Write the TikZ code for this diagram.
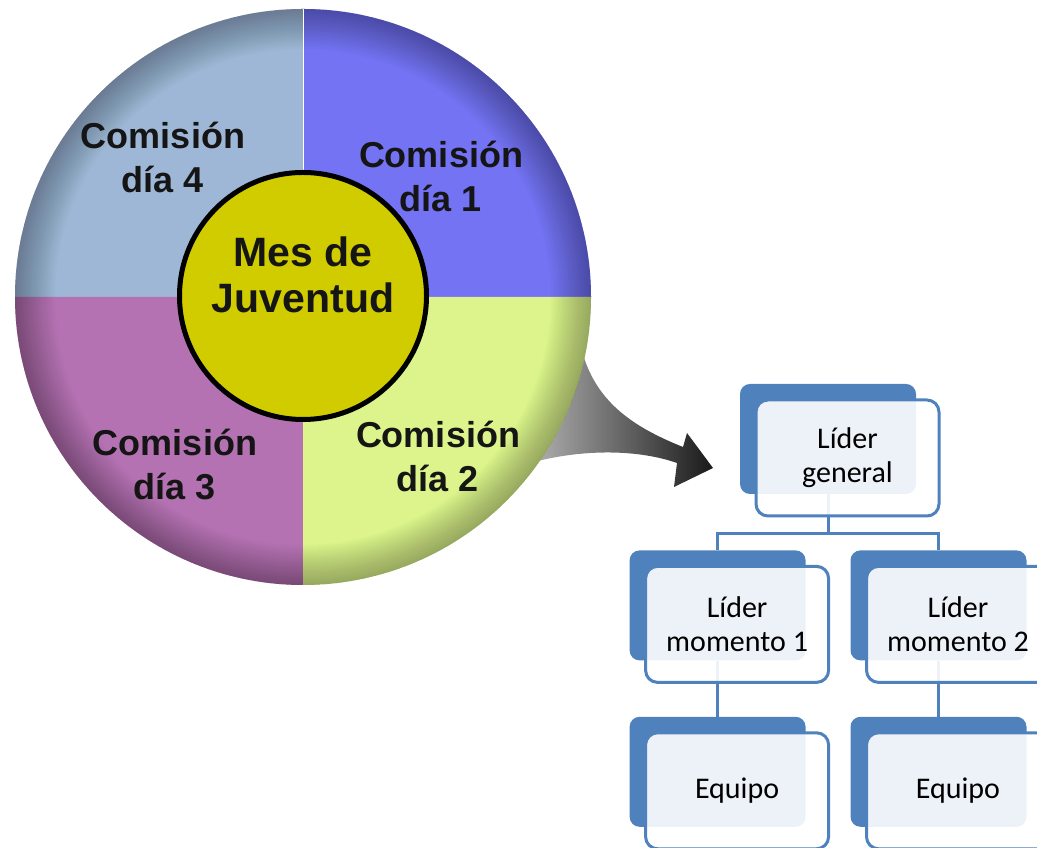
\documentclass[tikz,border=0pt]{standalone}
\usepackage{fontspec}
\setmainfont{Liberation Sans}
\newfontfamily\orgfont{Carlito}
\usetikzlibrary{positioning,calc}

\definecolor{orgblue}{HTML}{4F81BD}
\definecolor{diacuatro}{HTML}{9EB7D6}
\definecolor{diauno}{HTML}{7373F3}
\definecolor{diados}{HTML}{DCF48B}
\definecolor{diatres}{HTML}{B572B3}
\definecolor{mescolor}{HTML}{D0CC00}
\definecolor{txtcolor}{HTML}{151515}

\tikzset{
	dia/.style={text=txtcolor, align=center, font=\fontsize{36}{44}\selectfont\bfseries},
	backbox/.style={rectangle, fill=orgblue, rounded corners=10pt, minimum width=176pt, minimum height=110pt, inner sep=0pt},
	frontbox/.style={rectangle, draw=orgblue, line width=3pt, fill=white, fill opacity=.9, text opacity=1,
		rounded corners=12pt, minimum width=183pt, minimum height=116pt, inner sep=0pt, align=center,
		font=\orgfont\fontsize{30}{34}\selectfont},
	link/.style={draw=orgblue, line width=3pt}
}

\begin{document}
\begin{tikzpicture}[x=1pt, y=1pt]
	\clip (0,0) rectangle (1037,848);
	% Arrow
	\shade[left color=gray!60, right color=black!90] (580,505) .. controls (592,450) and (628,423) .. (683,401)
		-- (687,415) -- (713,380) -- (674,361) -- (677,385) .. controls (640,398) and (585,400) .. (530,385) -- cycle;
	% Wheel
	\coordinate (c) at (303,551);
	\foreach \a/\col in {0/diauno, 90/diacuatro, 180/diatres, 270/diados}
		\fill[\col] (c) -- ++(\a:288) arc[start angle=\a, end angle=\a+90, radius=288pt] -- cycle;
	\foreach \k in {1,...,20}
		\fill[black, opacity=.017, even odd rule] (c) circle[radius=288pt] circle[radius={288pt-2pt*\k}];
	\draw[white, line width=.8pt] (c) -- ++(0,288);
	\node[circle, draw=black, line width=5pt, fill=mescolor, minimum size=247pt, inner sep=0pt] (mes) at (303,552) {};
	\node[dia, font=\fontsize{41}{46}\selectfont\bfseries] (mestxt) at ([yshift=21pt]mes.center) {Mes de\\Juventud};
	\node[dia] (dia4) at (163,691) {Comisión\\día 4};
	\node[dia] (dia1) at (441,672) {Comisión\\día 1};
	\node[dia] (dia3) at (175,383) {Comisión\\día 3};
	\node[dia] (dia2) at (438,392) {Comisión\\día 2};
	% Place nodes
	\node[backbox] (bgeneral) at (828,409) {};
	\node[backbox, below left=56pt and -66pt of bgeneral] (bmom1) {};
	\node[backbox, right=44.5pt of bmom1] (bmom2) {};
	\node[backbox, below=56pt of bmom1] (beq1) {};
	\node[backbox, below=56pt of bmom2] (beq2) {};
	% Draw edges
	\coordinate (fork) at ($(bgeneral.south)+(0,-39)$);
	\draw[link] (bgeneral.south) -- (fork);
	\draw[link] (bmom1.north) |- (fork) -| (bmom2.north);
	\draw[link] (bmom1.south) -- (beq1.north);
	\draw[link] (bmom2.south) -- (beq2.north);
	% Front boxes
	\node[frontbox] (general) at ([shift={(19.5,-19)}]bgeneral.center) {Líder\\general};
	\node[frontbox] (mom1) at ([shift={(19.5,-19)}]bmom1.center) {Líder\\momento 1};
	\node[frontbox] (mom2) at ([shift={(19.5,-19)}]bmom2.center) {Líder\\momento 2};
	\node[frontbox] (eq1) at ([shift={(19.5,-19)}]beq1.center) {Equipo};
	\node[frontbox] (eq2) at ([shift={(19.5,-19)}]beq2.center) {Equipo};
\end{tikzpicture}
\end{document}
